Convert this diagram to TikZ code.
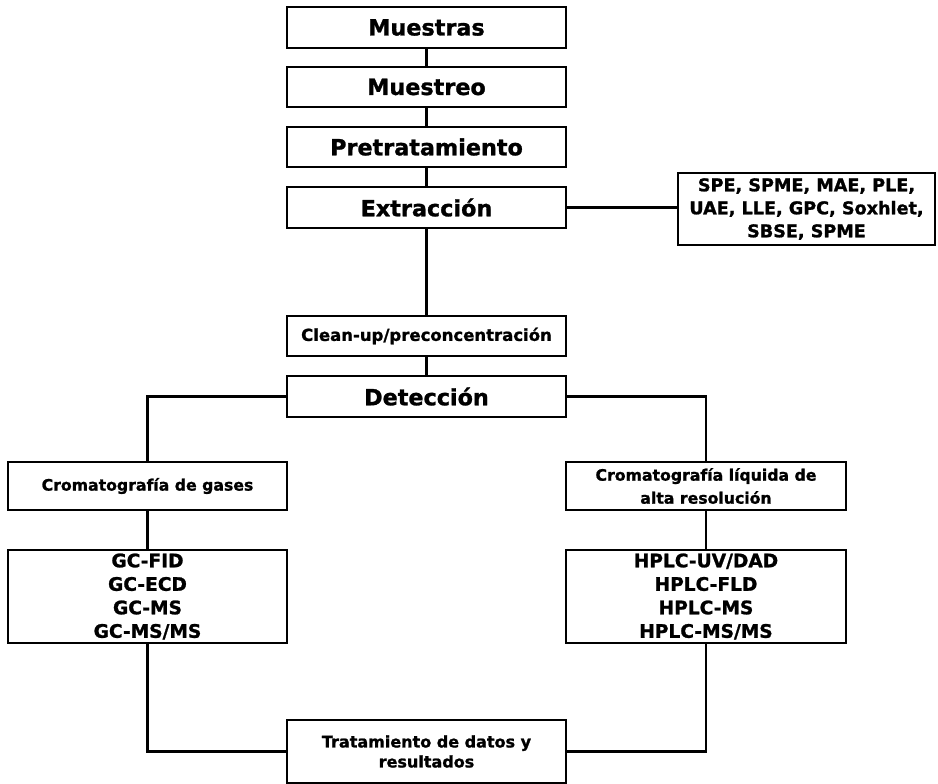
\documentclass[tikz,border=0pt]{standalone}
\usepackage{fontspec}
\setmainfont{DejaVu Sans}[BoldFeatures={FakeBold=1.2}]
\begin{document}
\begin{tikzpicture}[x=1pt,y=-1pt,
  box/.style={draw=black,line width=1.7pt,fill=white,inner sep=0pt,align=center},
  big/.style={box,minimum width=279pt,font=\bfseries\fontsize{22.3}{26}\selectfont},
  mid/.style={box,font=\bfseries\fontsize{15.7}{23}\selectfont},
  list/.style={box,minimum width=279pt,minimum height=93pt,font=\bfseries\fontsize{18.6}{23.5}\selectfont},
  link/.style={line width=2.6pt,black}]
\useasboundingbox (0,0) rectangle (938,784);
% main chain
\node[big,minimum height=41pt] (mue) at (426.5,27.5) {Muestras};
\node[big,minimum height=40pt] (mst) at (426.5,87) {Muestreo};
\node[big,minimum height=40pt] (pre) at (426.5,147) {Pretratamiento};
\node[big,minimum height=41pt] (ext) at (426.5,207.5) {Extracción};
\node[box,minimum width=257pt,minimum height=72pt,font=\bfseries\fontsize{17.6}{23}\selectfont] (tec) at (806.5,209) {SPE, SPME, MAE, PLE,\\UAE, LLE, GPC, Soxhlet,\\SBSE, SPME};
\node[box,minimum width=279pt,minimum height=40pt,font=\bfseries\fontsize{16.5}{20}\selectfont] (cln) at (426.5,336) {Clean-up/preconcentración};
\node[big,minimum height=41pt] (det) at (426.5,396.5) {Detección};
% the two chromatographic branches
\node[mid,minimum width=279pt,minimum height=48pt] (cg) at (147.5,486) {Cromatografía de gases};
\node[mid,minimum width=280pt,minimum height=48pt] (lc) at (706,486) {Cromatografía líquida de\\alta resolución};
\node[list] (gcl) at (147.5,596.5) {GC-FID\\GC-ECD\\GC-MS\\GC-MS/MS};
\node[list,minimum width=280pt] (lcl) at (706,596.5) {HPLC-UV/DAD\\HPLC-FLD\\HPLC-MS\\HPLC-MS/MS};
\node[box,minimum width=279pt,minimum height=63pt,font=\bfseries\fontsize{16}{20}\selectfont] (tra) at (426.5,751.5) {Tratamiento de datos y\\resultados};
% connectors
\draw[link] (mue) -- (mst);
\draw[link] (mst) -- (pre);
\draw[link] (pre) -- (ext);
\draw[link] (ext) -- (cln);
\draw[link] (cln) -- (det);
\draw[link] (ext.east) -- (tec.west |- ext.east);
\draw[link] (det.west) -| (cg.north);
\draw[link] (det.east) -| (lc.north);
\draw[link] (cg) -- (gcl);
\draw[link] (lc) -- (lcl);
\draw[link] (gcl.south) |- (tra.west);
\draw[link] (lcl.south) |- (tra.east);
\end{tikzpicture}
\end{document}
